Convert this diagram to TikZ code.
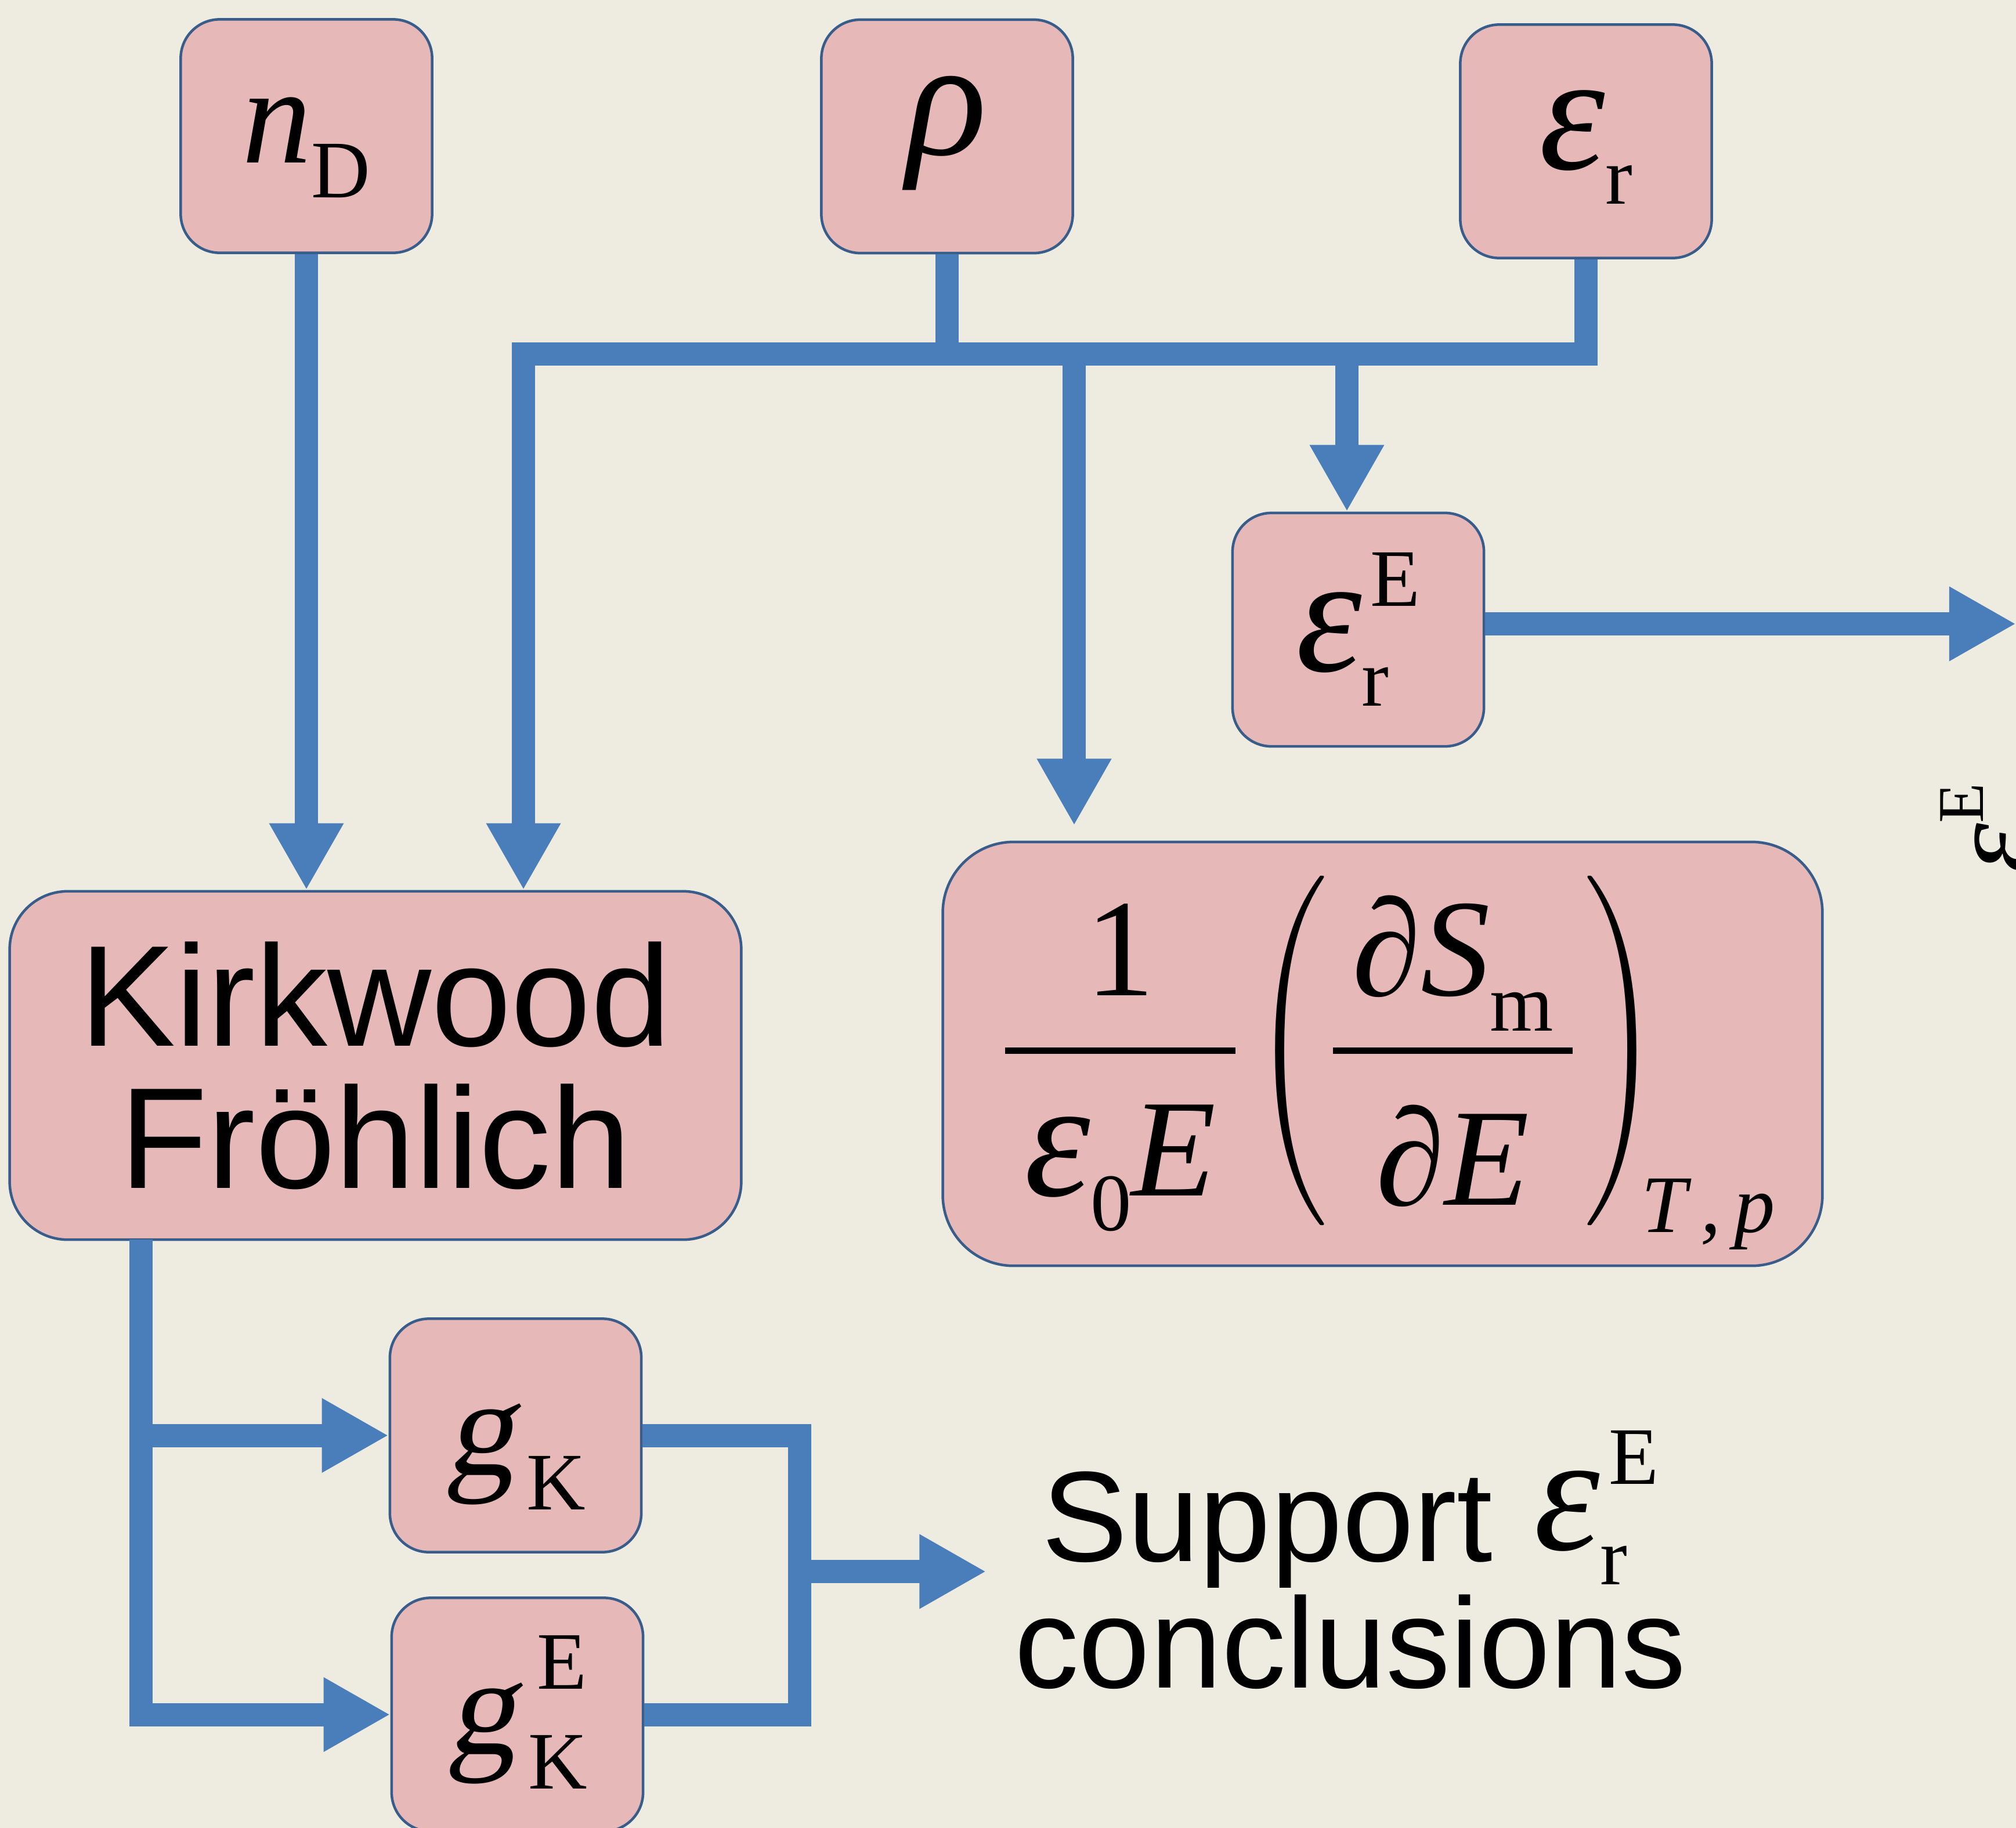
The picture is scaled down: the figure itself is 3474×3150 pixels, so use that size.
\documentclass[tikz,border=0pt]{standalone}
\usepackage{fontspec}
\setmainfont{Liberation Serif}
\newfontfamily\arialf{Liberation Sans}
\newfontfamily\slantf[FakeSlant=0.18]{Liberation Serif}
\definecolor{slidebg}{HTML}{EEECE1}
\definecolor{boxfill}{HTML}{E6B9B8}
\definecolor{boxline}{HTML}{385D8A}
\definecolor{linkblue}{HTML}{4A7EBB}
\usetikzlibrary{arrows.meta}
\newcommand\symsz{\rmfamily\fontsize{68}{68}\selectfont}
\newcommand\idxsz{\rmfamily\fontsize{40}{40}\selectfont}
\newcommand\grk[1]{{\rmfamily\fontsize{82}{82}\selectfont\itshape #1\/}}
\newcommand\lowix[1]{\raisebox{-0.6cm}{\idxsz #1}}
\newcommand\bothix[2]{{\idxsz\ooalign{\hspace{0.15cm}\raisebox{1.12cm}{#1}\cr\raisebox{-0.6cm}{#2}\cr}}}
\newcommand\barfrac[3]{{\renewcommand\arraystretch{0}%
  \begin{tabular}[t]{@{}c@{}}#2\\[0.89cm]\rule{#1}{0.11cm}\\[0.88cm]#3\end{tabular}}}
\newcommand\tallparen[1]{\raisebox{-1.45cm}{\scalebox{4.6}[5.71]{\normalsize$\Bigg#1$}}}

\begin{document}
\begin{tikzpicture}[x=0.01cm,y=-0.01cm,
  var/.style={draw=boxline,line width=0.45mm,fill=boxfill,rounded corners=0.67cm,
    minimum width=4.33cm,minimum height=4.02cm,inner sep=0pt},
  sink/.style={text height=#1,text depth=0pt},
  link/.style={draw=linkblue,line width=0.4cm},
  arr/.style={link,-{Triangle[length=1.15cm,width=1.2cm]}}]
  \useasboundingbox (0,0) rectangle (3474,3150);
  \fill[slidebg] (0,0) rectangle (3474,3150);
  \node[var,sink=0.92cm] (nD) at (528,234.5) {{\symsz\itshape n}\lowix{D}};
  \node[var,sink=0.62cm] (rho) at (1632,235) {\grk{ρ}};
  \node[var,sink=0.96cm] (er) at (2733,243.5) {\grk{ε}\lowix{r}};
  \node[var,sink=1.42cm] (erE) at (2340.5,1085) {\grk{ε}\bothix{E}{r}};
  \node[var,rounded corners=1cm,minimum width=12.6cm,minimum height=6cm,align=center,
    font=\arialf\fontsize{70.5}{69.7}\selectfont] (kf) at (647,1836) {Kirkwood\\Fröhlich};
  \node[var,rounded corners=1.22cm,minimum width=15.15cm,minimum height=7.3cm,
    text height=0pt,text depth=2cm] (form) at (2382.5,1816) {\symsz\hspace{0.26cm}%
    \barfrac{3.97cm}{1}{\grk{ε}\lowix{0}\textit{E}}\hspace{0.3cm}%
    \tallparen{(}\hspace{0.1cm}%
    \barfrac{4.13cm}{∂\textit{S}\lowix{m}}{∂\textit{E}}\hspace{0.2cm}%
    \tallparen{)}\hspace{-0.3cm}\raisebox{-4.07cm}{\idxsz\itshape T\,,\,p}};
  \node[var,sink=1.36cm] (gK) at (888.5,2473.5) {{\symsz\slantf g}\hspace{0.2cm}\lowix{K}};
  \node[var,sink=1.36cm] (gKE) at (891.5,2954.5) {{\symsz\slantf g}\hspace{0.2cm}\bothix{E}{K}};
  \node[anchor=base,inner sep=0pt,font=\arialf\fontsize{63}{61.7}\selectfont] (sup) at (2327,2690)
    {\renewcommand\arraystretch{0}\begin{tabular}[t]{@{}c@{}}Support \hspace{0.1cm}%
    \raisebox{0.2cm}{\grk{ε}\bothix{E}{r}}\\[0.58cm]conclusions\end{tabular}};
  \node[rotate=90,anchor=base west,inner sep=0pt] (axlab) at (3505,1505)
    {\rmfamily\fontsize{62}{62}\selectfont\itshape ε\/\upshape\fontsize{32}{32}\selectfont
    \ooalign{\raisebox{0.87cm}{E}\cr\raisebox{-0.48cm}{r}\cr}};
  \coordinate (busL) at (902,610);
  \coordinate (tapF) at (1851,610);
  \coordinate (tapE) at (2321,610);
  \coordinate (edge) at (3474,1075);
  \coordinate (trunk) at (243,2136);
  \coordinate (merge) at (1378,2708);
  \draw[arr] (nD.south) -- (nD.south |- kf.north);
  \draw[arr] (er.south) |- (busL) -- (busL |- kf.north);
  \draw[link] (rho.south) -- (rho.south |- busL);
  \draw[arr,shorten >=0.26cm] (tapF) -- (tapF |- form.north);
  \draw[arr] (tapE) -- (tapE |- erE.north);
  \draw[arr] (erE.east |- edge) -- (edge);
  \draw[arr] (trunk) |- (gKE.west);
  \draw[arr] (trunk |- gK.west) -- (gK.west);
  \draw[link] (gK.east) -| (merge) |- (gKE.east);
  \draw[arr,shorten >=0.48cm] (merge) -- (merge -| sup.west);
\end{tikzpicture}
\end{document}
